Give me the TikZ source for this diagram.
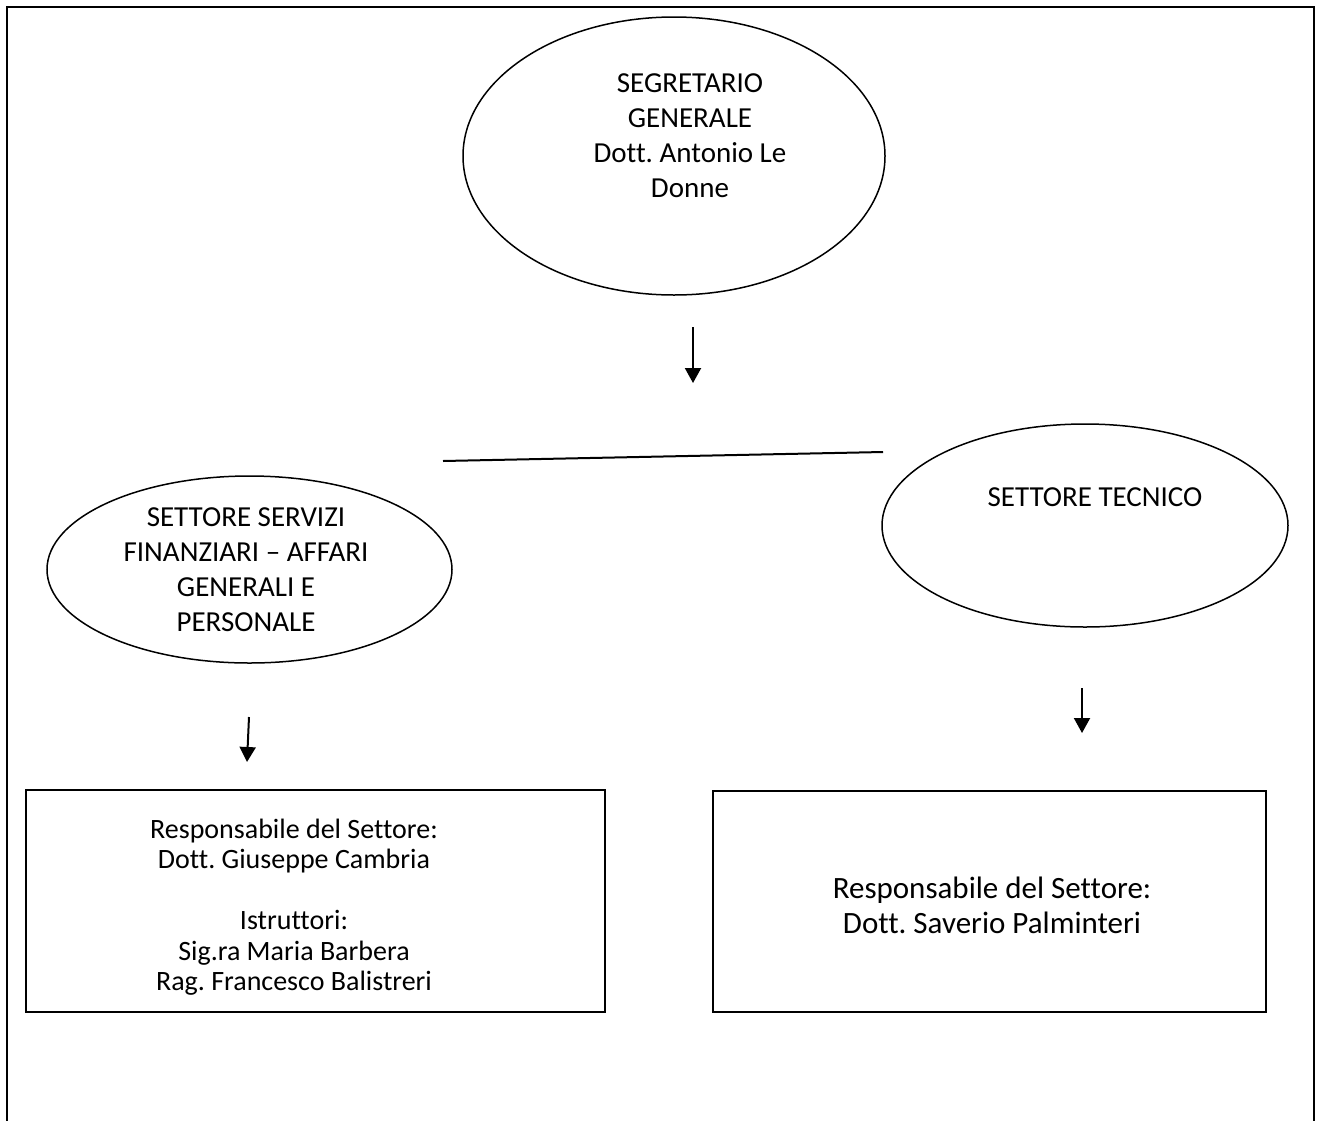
\documentclass[tikz,border=0pt]{standalone}
\usepackage{fontspec}
\setmainfont{Carlito}[Ligatures=NoCommon]
\frenchspacing
\usetikzlibrary{shapes.geometric,arrows.meta}
\begin{document}
\begin{tikzpicture}[x=1pt,y=-1pt,
  ell/.style={draw,ellipse,line width=1.5pt,inner sep=0pt},
  box/.style={draw,line width=1.5pt},
  txt/.style={align=center,inner sep=0pt,font=\fontsize{29}{35}\selectfont},
  arr/.style={line width=2pt,-{Triangle[width=16pt,length=15pt]}},
  conn/.style={line width=2pt}]
\useasboundingbox (0,0) rectangle (1317,1120);
\begin{scope}
\clip (0,0) rectangle (1317,1120);
\draw[line width=2.5pt] (7,1130) -- (7,7) -- (1314,7) -- (1314,1130);
\end{scope}
% top ellipse
\node[ell,minimum width=422pt,minimum height=278pt] (seg) at (674,156) {};
\node[txt] (segT) at (690,136) {SEGRETARIO\\GENERALE\\Dott. Antonio Le\\Donne};
% arrow 1
\coordinate (a1s) at (693,327);
\coordinate (a1e) at (693,383);
\draw[arr] (a1s) -- (a1e);
% horizontal line
\coordinate (hl) at (443,461);
\coordinate (hr) at (883,452);
\draw[conn] (hl) -- (hr);
% left ellipse
\node[ell,minimum width=405pt,minimum height=187pt] (fin) at (249.5,569.5) {};
\node[txt] (finT) at (246,570) {SETTORE SERVIZI\\FINANZIARI -- AFFARI\\GENERALI E\\PERSONALE};
% right ellipse
\node[ell,minimum width=406pt,minimum height=203pt] (tec) at (1085,525.5) {};
\node[txt] (tecT) at (1095,497) {SETTORE TECNICO};
% arrows to boxes
\coordinate (a2s) at (249,717);
\coordinate (a2e) at (247,762);
\draw[arr] (a2s) -- (a2e);
\coordinate (a3s) at (1082,688);
\coordinate (a3e) at (1082,733);
\draw[arr] (a3s) -- (a3e);
% boxes
\node[box,minimum width=579pt,minimum height=222pt,inner sep=0pt] (lb) at (315.5,901) {};
\node[txt,font=\fontsize{28}{30.5}\selectfont] (lbT) at (294,907) {Responsabile del Settore:\\Dott. Giuseppe Cambria\\[30.5pt]Istruttori:\\Sig.ra Maria Barbera\\Rag. Francesco Balistreri};
\node[box,minimum width=553pt,minimum height=221pt,inner sep=0pt] (rb) at (989.5,901.5) {};
\node[txt,font=\fontsize{31}{35}\selectfont] (rbT) at (992,905) {Responsabile del Settore:\\Dott. Saverio Palminteri};
\end{tikzpicture}
\end{document}
